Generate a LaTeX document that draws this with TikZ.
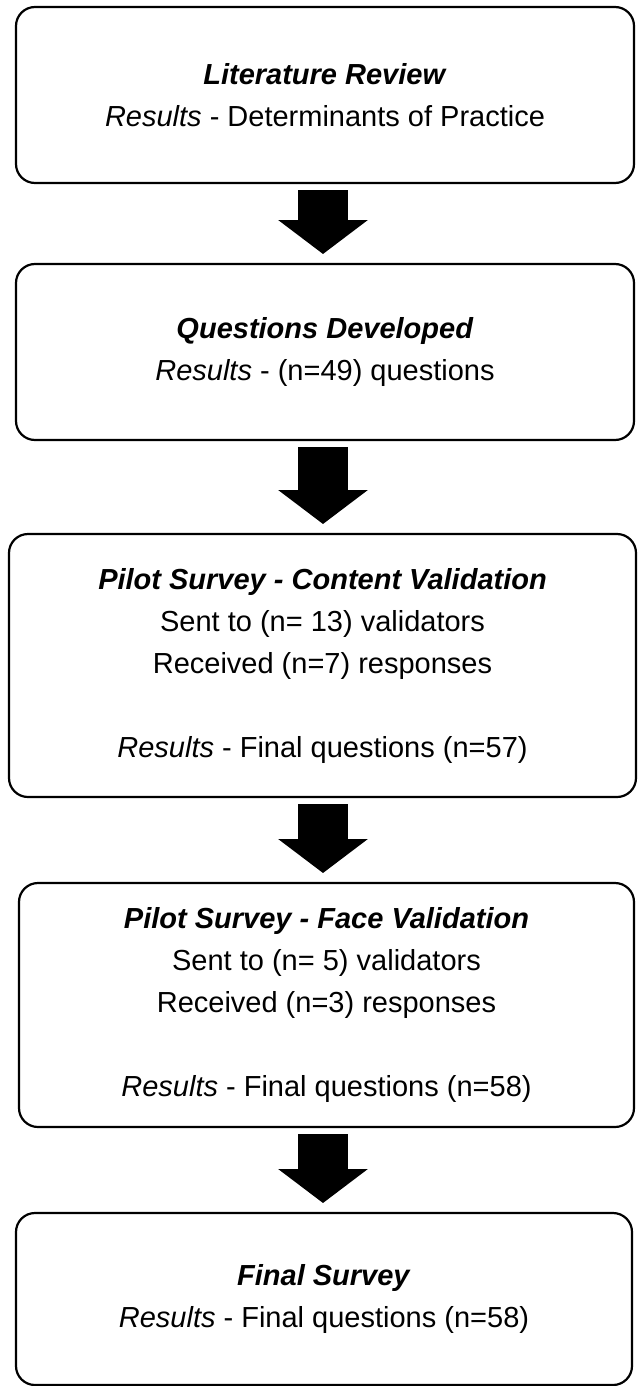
\documentclass[tikz,border=0pt]{standalone}
\usepackage{fontspec}
\setmainfont{Liberation Sans}
\usetikzlibrary{arrows.meta,calc}
\begin{document}
\begin{tikzpicture}[x=1pt,y=-1pt,
  stage/.style={draw, line width=2.2pt, rounded corners=19pt, outer sep=0pt,
    inner sep=0pt, align=center, font=\fontsize{29}{42}\selectfont},
  flow/.style={line width=50pt, -{Triangle[width=88pt,length=34pt]},
    shorten <=7pt, shorten >=10pt}]
\useasboundingbox (0,0) rectangle (637,1386);

% stages of the survey development
\node[stage, minimum width=618pt, minimum height=176pt] (lit) at (325,95)
  {\textbf{\textit{Literature Review}}\\
   \textit{Results} - Determinants of Practice};
\node[stage, minimum width=618pt, minimum height=176pt] (dev) at (325,352)
  {\textbf{\textit{Questions Developed}}\\
   \textit{Results} - (n=49) questions};
\node[stage, minimum width=627pt, minimum height=263pt] (content) at (322.5,665.5)
  {\textbf{\textit{Pilot Survey - Content Validation}}\\
   Sent to (n= 13) validators\\
   Received (n=7) responses\\[42pt]
   \textit{Results} - Final questions (n=57)};
\node[stage, minimum width=615pt, minimum height=244pt] (face) at (326.5,1005)
  {\textbf{\textit{Pilot Survey - Face Validation}}\\
   Sent to (n= 5) validators\\
   Received (n=3) responses\\[42pt]
   \textit{Results} - Final questions (n=58)};
\node[stage, minimum width=616pt, minimum height=172pt] (final) at (324,1299)
  {\textbf{\textit{Final Survey}}\\
   \textit{Results} - Final questions (n=58)};

% block arrows between the stages
\coordinate (axis) at (323,0);
\draw[flow] (lit.south -| axis) -- (dev.north -| axis);
\draw[flow] (dev.south -| axis) -- (content.north -| axis);
\draw[flow] (content.south -| axis) -- (face.north -| axis);
\draw[flow] (face.south -| axis) -- (final.north -| axis);
\end{tikzpicture}
\end{document}
